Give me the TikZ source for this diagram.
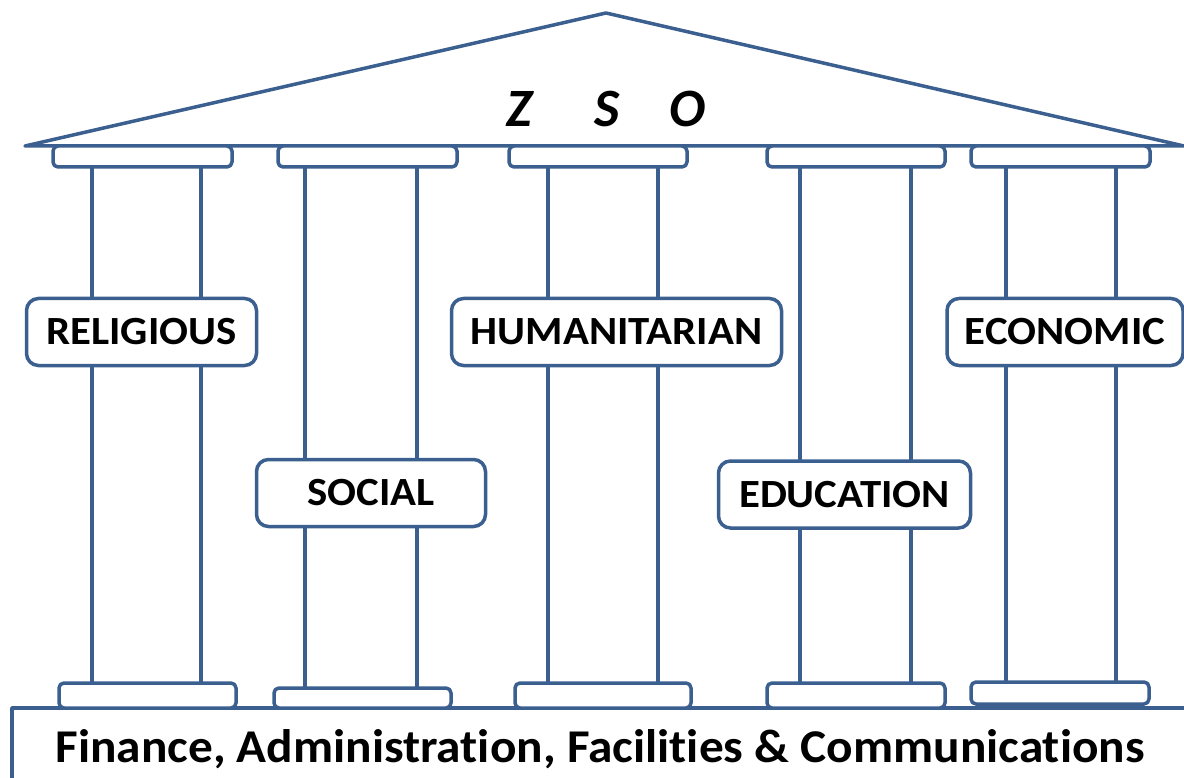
\documentclass[tikz,border=0pt]{standalone}
\usepackage{fontspec}
\setmainfont{Carlito}[Ligatures=NoCommon]
\newfontfamily\labelfont{Carlito}[Ligatures=NoCommon,FakeStretch=1.07]
\newfontfamily\basefont{Carlito}[Ligatures=NoCommon,FakeStretch=1.05]
\definecolor{lineblue}{RGB}{59,95,143}
\begin{document}
\begin{tikzpicture}[x=1pt,y=-1pt,
  part/.style={draw=lineblue,line width=3.5pt,line join=round},
  slab/.style={part,fill=white,rounded corners=5pt},
  pillarlabel/.style={part,fill=white,rounded corners=12pt,inner sep=0pt,minimum height=67pt,
     font=\labelfont\fontsize{40}{40}\selectfont\bfseries},
  ztext/.style={anchor=base,font=\fontsize{54}{54}\selectfont\bfseries\itshape}]
\useasboundingbox (0,0) rectangle (1184,778);
% roof
\draw[part] (25,146) -- (606,13) -- (1184,146) -- cycle;
% foundation
\draw[part] (12,780) -- (12,708) -- (1186,708);
\node[anchor=base,font=\basefont\fontsize{47}{47}\selectfont\bfseries] (found) at (600,762)
  {Finance, Administration, Facilities \& Communications};
% columns: shafts
\foreach \a/\b/\t in {92/201/683,305/417/688,548/658/683,800/911/683,1006/1116/682}{
  \draw[part] (\a,166) -- (\a,\t);
  \draw[part] (\b,166) -- (\b,\t);
}
% capitals
\foreach \l/\r in {53/232,278/457,509/687,767/945,971/1150}{
  \draw[slab] (\l,146) rectangle (\r,167);
}
% bases
\foreach \l/\r/\t/\bt in {59/236/683/708,274/451/688/708,515/691/683/708,767/945/683/708,971/1149/682/704}{
  \draw[slab] (\l,\t) rectangle (\r,\bt);
}
% labels
\node[pillarlabel,minimum width=230pt] (rel) at (141.5,332) {RELIGIOUS};
\node[pillarlabel,minimum width=330pt] (hum) at (616.5,332) {HUMANITARIAN};
\node[pillarlabel,minimum width=236pt] (eco) at (1065,332) {ECONOMIC};
\node[pillarlabel,minimum width=229pt] (soc) at (371,493) {SOCIAL};
\node[pillarlabel,minimum width=252pt] (edu) at (844.5,494.5) {EDUCATION};
% title letters
\node[ztext] (z) at (519,127) {Z};
\node[ztext] (s) at (607,127) {S};
\node[ztext] (o) at (688,127) {O};
\end{tikzpicture}
\end{document}
